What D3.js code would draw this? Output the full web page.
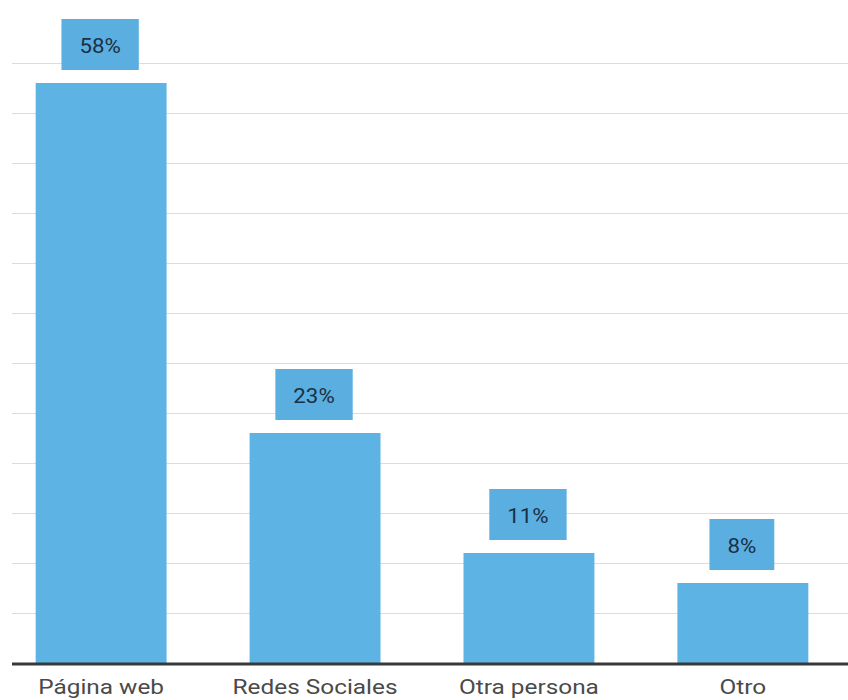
<!DOCTYPE html>
<html>
<head>
<meta charset="utf-8">
<script src="https://cdn.jsdelivr.net/npm/d3@7"></script>
<style>
  html, body { margin: 0; padding: 0; background: #fff; }
  svg { display: block; }
</style>
</head>
<body>
<svg id="chart" width="848" height="700"></svg>
<script>
const categories = ["Página web", "Redes Sociales", "Otra persona", "Otro"];
const values = [58, 23, 11, 8];
const valueLabels = ["58%", "23%", "11%", "8%"];
const gridTicks = [5, 10, 15, 20, 25, 30, 35, 40, 45, 50, 55, 60];

const svg = d3.select("#chart");
const W = 848, H = 700;
const baseY = 663, topY = 63;
const gridLeft = 12;

const x = d3.scaleBand().domain(categories).range([10, 834]).paddingInner(0.388).paddingOuter(0.12);
const y = d3.scaleLinear().domain([0, 60]).range([baseY, topY]);

// gridlines
svg.append("g").selectAll("line").data(gridTicks).join("line")
  .attr("x1", gridLeft).attr("x2", W)
  .attr("y1", d => Math.round(y(d)) + 0.5).attr("y2", d => Math.round(y(d)) + 0.5)
  .attr("stroke", "#dcdcdc").attr("stroke-width", 1);

// bars
svg.append("g").selectAll("rect").data(values).join("rect")
  .attr("x", (d, i) => x(categories[i]))
  .attr("width", x.bandwidth())
  .attr("y", d => y(d))
  .attr("height", d => baseY - y(d))
  .attr("fill", "#5db4e4");

// baseline
svg.append("line").attr("x1", gridLeft).attr("x2", W)
  .attr("y1", baseY + 1).attr("y2", baseY + 1)
  .attr("stroke", "#383838").attr("stroke-width", 3);

// value labels with boxes
const lab = svg.append("g").selectAll("g").data(values).join("g");
lab.each(function(d, i) {
  const g = d3.select(this);
  const cx = x(categories[i]) + x.bandwidth() / 2 - 1;
  const boxH = 51;
  const bottom = y(d) - 13;
  const t = g.append("text")
    .attr("x", cx).attr("y", bottom - boxH / 2 + 1)
    .attr("text-anchor", "middle").attr("dominant-baseline", "central")
    .attr("font-family", "Roboto, sans-serif").attr("font-size", 21)
    .attr("fill", "#1c2f45")
    .text(valueLabels[i]);
  const tw = t.node().getComputedTextLength();
  t.attr("textLength", tw * 1.06).attr("lengthAdjust", "spacingAndGlyphs");
  const w = tw * 1.06 + 36;
  g.insert("rect", "text")
    .attr("x", cx - w / 2).attr("y", bottom - boxH)
    .attr("width", w).attr("height", boxH)
    .attr("fill", "#5aafe0");
});

// x-axis labels
svg.append("g").selectAll("text").data(categories).join("text")
  .attr("x", d => x(d) + x.bandwidth() / 2)
  .attr("y", 694)
  .attr("text-anchor", "middle")
  .attr("font-family", "Roboto, sans-serif").attr("font-size", 21)
  .attr("fill", "#4a4a4a")
  .text(d => d)
  .each(function() {
    const tw = this.getComputedTextLength();
    d3.select(this).attr("textLength", tw * 1.16).attr("lengthAdjust", "spacingAndGlyphs");
  });
</script>
</body>
</html>
